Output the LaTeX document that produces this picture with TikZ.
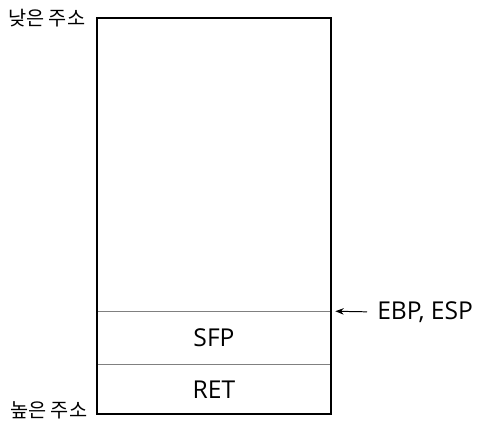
\documentclass[tikz,border=0pt]{standalone}
\usepackage{fontspec}
\setmainfont{Open Sans}
\newfontfamily\krfont{Noto Sans CJK KR}
\usetikzlibrary{arrows.meta,positioning}

\begin{document}
\begin{tikzpicture}[x=0.025cm,y=-0.025cm,
  font=\fontsize{17.5}{20}\selectfont,
  frame/.style={draw=none,minimum width=5.85cm,minimum height=9.9cm,inner sep=0pt},
  cell/.style={draw=none,minimum width=5.85cm,inner sep=0pt},
  sep/.style={draw=black!50,line width=0.6pt},
  addr/.style={font=\krfont\fontsize{14}{16}\selectfont,inner sep=0pt},
  ptr/.style={-{Stealth[length=2.1mm,width=1.6mm]},line width=0.7pt}]
\useasboundingbox (0,0) rectangle (480,435);
\node[frame] (stack) at (214,216) {};
\node[cell,minimum height=1.225cm,anchor=south] (ret) at (stack.south) {RET};
\node[cell,minimum height=1.325cm,anchor=south] (sfp) at (ret.north) {SFP};
\draw[sep] (sfp.north west) -- (sfp.north east);
\draw[sep] (ret.north west) -- (ret.north east);
\draw[line width=1.4pt] (stack.north west) rectangle (stack.south east);
% addresses
\node[addr,anchor=west] (low) at (8,18) {낮은 주소};
\node[addr,anchor=west] (high) at (10,410) {높은 주소};
% register
\node[inner sep=0pt,anchor=west] (reg) at (377,312) {EBP, ESP};
\draw[ptr,shorten <=0.25cm,shorten >=0.1cm] (reg.west) -- (sfp.north east);
\end{tikzpicture}
\end{document}
